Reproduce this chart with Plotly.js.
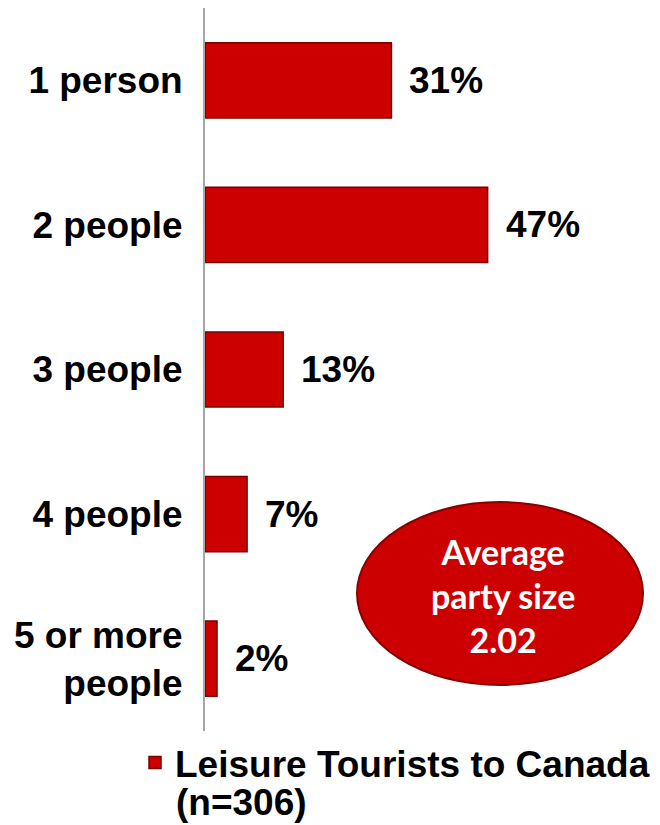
<!DOCTYPE html>
<html>
<head>
<meta charset="utf-8">
<script src="https://cdn.plot.ly/plotly-3.0.1.min.js"></script>
<style>html,body{margin:0;padding:0;background:#fff;}#chart{width:660px;height:825px;}</style>
</head>
<body>
<div id="chart"></div>
<script>
const categories = ["1 person", "2 people", "3 people", "4 people", "5 or more<br>people"];
const values = [31, 47, 13, 7, 2];
const seriesName = "Leisure Tourists to Canada";
const seriesNote = "(n=306)";
const averageText = "Average<br>party size<br>2.02";

const FONT = "Arial, 'Liberation Sans', sans-serif";

const trace = {
  type: "bar",
  orientation: "h",
  x: values,
  y: categories,
  name: seriesName,
  showlegend: true,
  width: 0.52,
  marker: { color: "#cc0000", line: { color: "#7a0000", width: 1.5 } },
  hoverinfo: "skip"
};

const annotations = values.map((v, i) => ({
  x: v, y: categories[i], xref: "x", yref: "y",
  text: v + "%", showarrow: false, xanchor: "left", xshift: 16,
  font: { family: FONT, size: 37, color: "#000", weight: "bold" }
}));

annotations.push({
  xref: "paper", yref: "paper",
  x: (503 - 205) / 445, y: (731 - 595) / 723,
  xanchor: "center", yanchor: "middle",
  text: averageText, showarrow: false,
  font: { family: "Lato, 'Open Sans', sans-serif", size: 34, color: "#fff", weight: "bold" }
});

annotations.push({
  xref: "paper", yref: "paper",
  x: (174 - 205) / 445, y: (731 - 802) / 723,
  xanchor: "left", yanchor: "middle",
  text: seriesNote, showarrow: false,
  font: { family: FONT, size: 37, color: "#000", weight: "bold" }
});

const layout = {
  width: 660, height: 825,
  margin: { l: 205, r: 10, t: 8, b: 94, autoexpand: false },
  paper_bgcolor: "#fff", plot_bgcolor: "#fff",
  bargap: 0.48,
  xaxis: { visible: false, range: [0, 74], fixedrange: true },
  yaxis: {
    type: "category", autorange: "reversed",
    showline: true, linecolor: "#a6a6a6", linewidth: 2,
    showgrid: false, zeroline: false, ticks: "",
    ticklabelstandoff: 13,
    tickfont: { family: FONT, size: 37, color: "#000", weight: "bold" }
  },
  showlegend: true,
  legend: {
    orientation: "h", x: (135 - 205) / 445, y: (731 - 732) / 723,
    xanchor: "left", yanchor: "top", valign: "top",
    font: { family: FONT, size: 37, color: "#000", weight: "bold" },
    bgcolor: "rgba(0,0,0,0)"
  },
  shapes: [{
    type: "circle", xref: "paper", yref: "paper", layer: "below",
    x0: (357 - 205) / 445, x1: (643 - 205) / 445,
    y0: (731 - 685) / 723, y1: (731 - 502) / 723,
    fillcolor: "#cc0000", line: { color: "#8a0000", width: 2 }
  }],
  annotations: annotations
};

Plotly.newPlot("chart", [trace], layout, { displayModeBar: false, staticPlot: true });
</script>
</body>
</html>
